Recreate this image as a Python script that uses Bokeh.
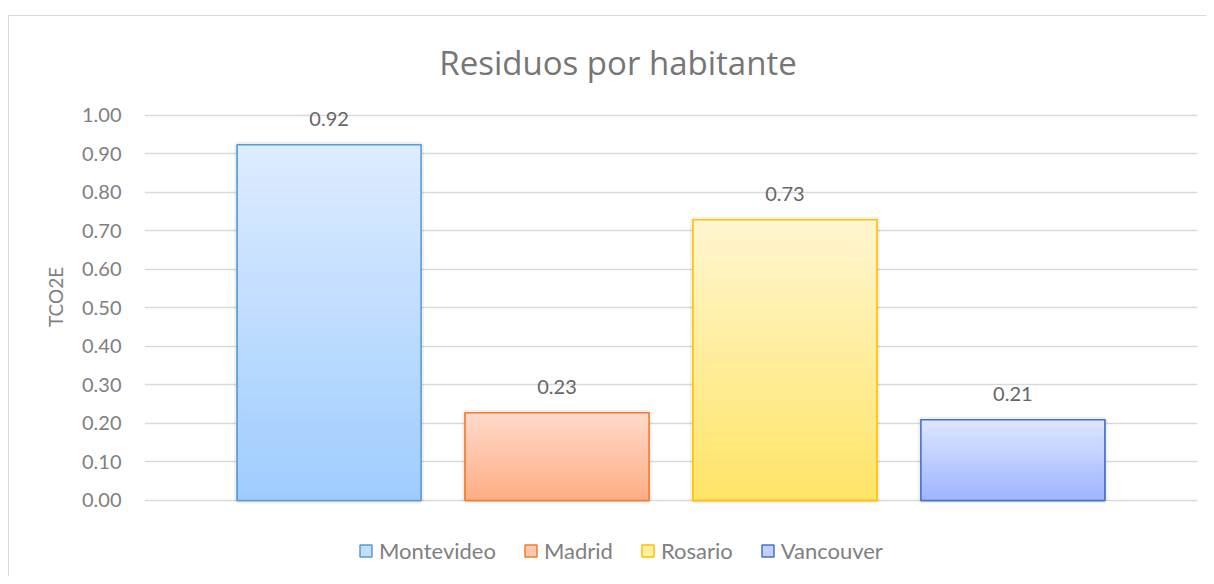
from bokeh.plotting import figure
from bokeh.models import (Range1d, FixedTicker, Legend, LegendItem, Label, LabelSet,
                          ColumnDataSource, PrintfTickFormatter)
from bokeh.core.properties import value
from bokeh.embed import file_html
from bokeh.resources import INLINE

# ---- data ----
title_text = "Residuos por habitante"
y_label = "TCO2E"
cities = ["Montevideo", "Madrid", "Rosario", "Vancouver"]
values = [0.924, 0.228, 0.729, 0.210]
y_ticks = [0.0, 0.1, 0.2, 0.3, 0.4, 0.5, 0.6, 0.7, 0.8, 0.9, 1.0]

# ---- styles ----
border_colors = ["#5B9BD5", "#ED7D31", "#FFC000", "#4472C4"]
top_colors = ["#DEECFF", "#FFDACB", "#FFF6D0", "#DEE6FF"]
bottom_colors = ["#9ECCFF", "#FDAD83", "#FFE466", "#9DB4FF"]
FONT = "Lato"
TITLE_FONT = "Open Sans"
N_SLICES = 48
BAR_W = 0.807

def hex2rgb(h):
    h = h.lstrip("#")
    return tuple(int(h[i:i + 2], 16) for i in (0, 2, 4))

def mix(c0, c1, t):
    a, b = hex2rgb(c0), hex2rgb(c1)
    return "#%02x%02x%02x" % tuple(int(round(a[k] + (b[k] - a[k]) * t)) for k in range(3))

n = len(cities)
xs = [i - (n - 1) / 2 for i in range(n)]

# frame spans the whole height so that title, labels and legend are inside it
p = figure(width=1198, height=561, x_range=Range1d(-2.31, 2.31), y_range=Range1d(-0.2, 1.2571),
           output_backend="svg", toolbar_location=None,
           min_border_left=135, min_border_right=10, min_border_top=0, min_border_bottom=0)
p.styles = {"margin-top": "15px", "margin-left": "8px",
            "border-left": "1px solid #d9d9d9", "border-top": "1px solid #d9d9d9"}
p.outline_line_color = None
p.background_fill_color = "white"
p.border_fill_color = "white"

p.xaxis.visible = False
p.xgrid.visible = False
p.ygrid.grid_line_color = "#d9d9d9"
p.ygrid.grid_line_width = 1.5

ax = p.yaxis[0]
ax.ticker = FixedTicker(ticks=y_ticks)
ax.formatter = PrintfTickFormatter(format="%.2f")
ax.axis_line_color = None
ax.major_tick_line_color = None
ax.minor_tick_line_color = None
ax.major_tick_out = 0
ax.major_tick_in = 0
ax.major_label_standoff = 23
ax.major_label_text_font = FONT
ax.major_label_text_font_size = "20px"
ax.major_label_text_color = "#7f7f7f"
ax.axis_label = y_label
ax.axis_label_text_font = FONT
ax.axis_label_text_font_style = "normal"
ax.axis_label_text_font_size = "19px"
ax.axis_label_text_color = "#7f7f7f"
ax.axis_label_standoff = 12

# shadow
p.quad(left=[x - BAR_W / 2 for x in xs], right=[x + BAR_W / 2 for x in xs],
       bottom=0, top=values, fill_color=None, line_color="#000000", line_alpha=0.06, line_width=6)

items = []
for i, (x, v) in enumerate(zip(xs, values)):
    base = p.quad(left=[x - BAR_W / 2], right=[x + BAR_W / 2], bottom=[0], top=[v],
                  fill_color=mix(bottom_colors[i], top_colors[i], 0.55),
                  line_color=border_colors[i], line_width=1.5)
    items.append(LegendItem(label=cities[i], renderers=[base]))
    ls, rs, bs, ts, cs = [], [], [], [], []
    for k in range(N_SLICES):
        ls.append(x - BAR_W / 2)
        rs.append(x + BAR_W / 2)
        bs.append(v * k / N_SLICES)
        ts.append(v * (k + 1) / N_SLICES)
        cs.append(mix(bottom_colors[i], top_colors[i], (k + 0.5) / N_SLICES))
    src = ColumnDataSource(dict(left=ls, right=rs, bottom=bs, top=ts, color=cs))
    p.quad(left="left", right="right", bottom="bottom", top="top", source=src,
           fill_color="color", line_color="color", line_width=0.8)
    p.quad(left=[x - BAR_W / 2], right=[x + BAR_W / 2], bottom=[0], top=[v],
           fill_color=None, line_color=border_colors[i], line_width=1.5)

lab_src = ColumnDataSource(dict(x=xs, y=values, text=["%.2f" % v for v in values]))
p.add_layout(LabelSet(x="x", y="y", text="text", source=lab_src, y_offset=26,
                      text_align="center", text_baseline="middle",
                      text_font=value(FONT), text_font_size="20px", text_color="#666666"))

p.add_layout(Label(x=0, y=1.0, x_offset=-53, y_offset=53, text=title_text,
                   text_align="center", text_baseline="middle",
                   text_font=TITLE_FONT, text_font_size="33px", text_color="#767676"))

legend = Legend(items=items, orientation="horizontal", location=(214, 13))
legend.background_fill_alpha = 0
legend.border_line_color = None
legend.padding = 0
legend.margin = 0
legend.spacing = 27
legend.label_standoff = 6
legend.glyph_width = 15
legend.glyph_height = 15
legend.label_text_font = FONT
legend.label_text_font_size = "22px"
legend.label_text_color = "#7f7f7f"
p.add_layout(legend)

open("out.html", "w").write(file_html(p, INLINE))
